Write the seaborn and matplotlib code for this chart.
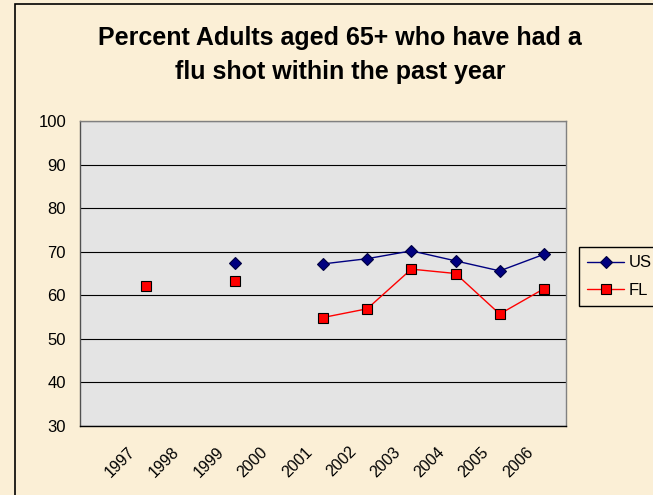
import numpy as np
import pandas as pd
import seaborn as sns
import matplotlib.pyplot as plt
from matplotlib.lines import Line2D
from matplotlib.patches import Rectangle

years = [1997, 1998, 1999, 2000, 2001, 2002, 2003, 2004, 2005, 2006]
us = [np.nan, np.nan, 67.3, np.nan, 67.2, 68.4, 70.2, 67.9, 65.6, 69.4]
fl = [62.2, np.nan, 63.3, np.nan, 54.9, 56.9, 66.0, 65.0, 55.7, 61.5]
yticks = [30, 40, 50, 60, 70, 80, 90, 100]
title = "Percent Adults aged 65+ who have had a\nflu shot within the past year"

bg = "#FBEFD6"
sns.set_style("white")
plt.rcParams["font.family"] = ["Liberation Sans", "DejaVu Sans"]
plt.rcParams["text.color"] = "black"
plt.rcParams["xtick.color"] = "black"
plt.rcParams["ytick.color"] = "black"

# long table, with a segment id so gaps (NaN years) break the line
rows = []
for name, vals in [("US", us), ("FL", fl)]:
    seg = 0
    for yr, v in zip(years, vals):
        if np.isnan(v):
            seg += 1
            continue
        rows.append(dict(year=yr, value=v, series=name, seg=seg))
df = pd.DataFrame(rows)

fig = plt.figure(figsize=(6.53, 4.95), dpi=100, facecolor=bg)
ax = fig.add_axes([80 / 653, 1 - 426 / 495, (566 - 80) / 653, (426 - 121) / 495])
ax.set_facecolor("#E4E4E4")

styles = {
    "US": dict(color="#000080", marker="D", markersize=6.5, mfc="#000080", mec="#000040"),
    "FL": dict(color="#FF0000", marker="s", markersize=7, mfc="#FF0000", mec="#000000"),
}
for name in ["US", "FL"]:
    st = styles[name]
    sns.lineplot(data=df[df.series == name], x="year", y="value", units="seg",
                 estimator=None, ax=ax, color=st["color"], lw=1,
                 marker=st["marker"], markersize=st["markersize"],
                 markerfacecolor=st["mfc"], markeredgecolor=st["mec"],
                 markeredgewidth=0.8, legend=False, zorder=3)

ax.set_xlim(1995.5, 2006.5)
ax.set_ylim(30, 100)
ax.set_yticks(yticks)
# label anchors sit slightly left of each category centre (Excel style)
ax.set_xticks([y - 0.18 for y in years])
ax.set_xticklabels([str(y) for y in years], rotation=45, ha="right", va="top",
                   fontsize=11.5)
ax.set_xticks(np.arange(1995.5, 2007, 1), minor=True)
ax.tick_params(axis="x", which="major", length=0, pad=13)
ax.tick_params(axis="x", which="minor", length=6, color="#404040", width=1, direction="out")
ax.tick_params(axis="y", length=6, color="#404040", width=1, direction="out", labelsize=12, pad=4)
ax.yaxis.grid(True, color="#000000", lw=0.8)
ax.set_axisbelow(True)
ax.set_xlabel("")
ax.set_ylabel("")

for s in ["top", "right"]:
    ax.spines[s].set_color("#808080")
ax.spines["left"].set_color("#505050")
ax.spines["bottom"].set_color("#000000")
for s in ax.spines.values():
    s.set_linewidth(1)

fig.text(340 / 653, 1 - 55 / 495, title, ha="center", va="center",
         fontsize=18, fontweight="bold", linespacing=1.5)

handles = [
    Line2D([], [], color=styles[n]["color"], lw=1, marker=styles[n]["marker"],
           markersize=styles[n]["markersize"], markerfacecolor=styles[n]["mfc"],
           markeredgecolor=styles[n]["mec"], markeredgewidth=0.8)
    for n in ["US", "FL"]
]
leg = fig.legend(handles, ["US", "FL"], loc="upper left",
                 bbox_to_anchor=(579 / 653, 1 - 247 / 495), fontsize=12,
                 frameon=True, fancybox=False, edgecolor="#000000",
                 facecolor=bg, framealpha=1, handlelength=2.2,
                 handletextpad=0.3, borderpad=0.5, labelspacing=0.75,
                 borderaxespad=0)
leg.get_frame().set_linewidth(1)

fig.patches.append(Rectangle((15 / 653, -0.1), 1.2, 0.1 + 1 - 4 / 495,
                             transform=fig.transFigure, fill=False,
                             edgecolor="#000000", lw=1.2))

fig.savefig("out.png", dpi=100, facecolor=bg)
